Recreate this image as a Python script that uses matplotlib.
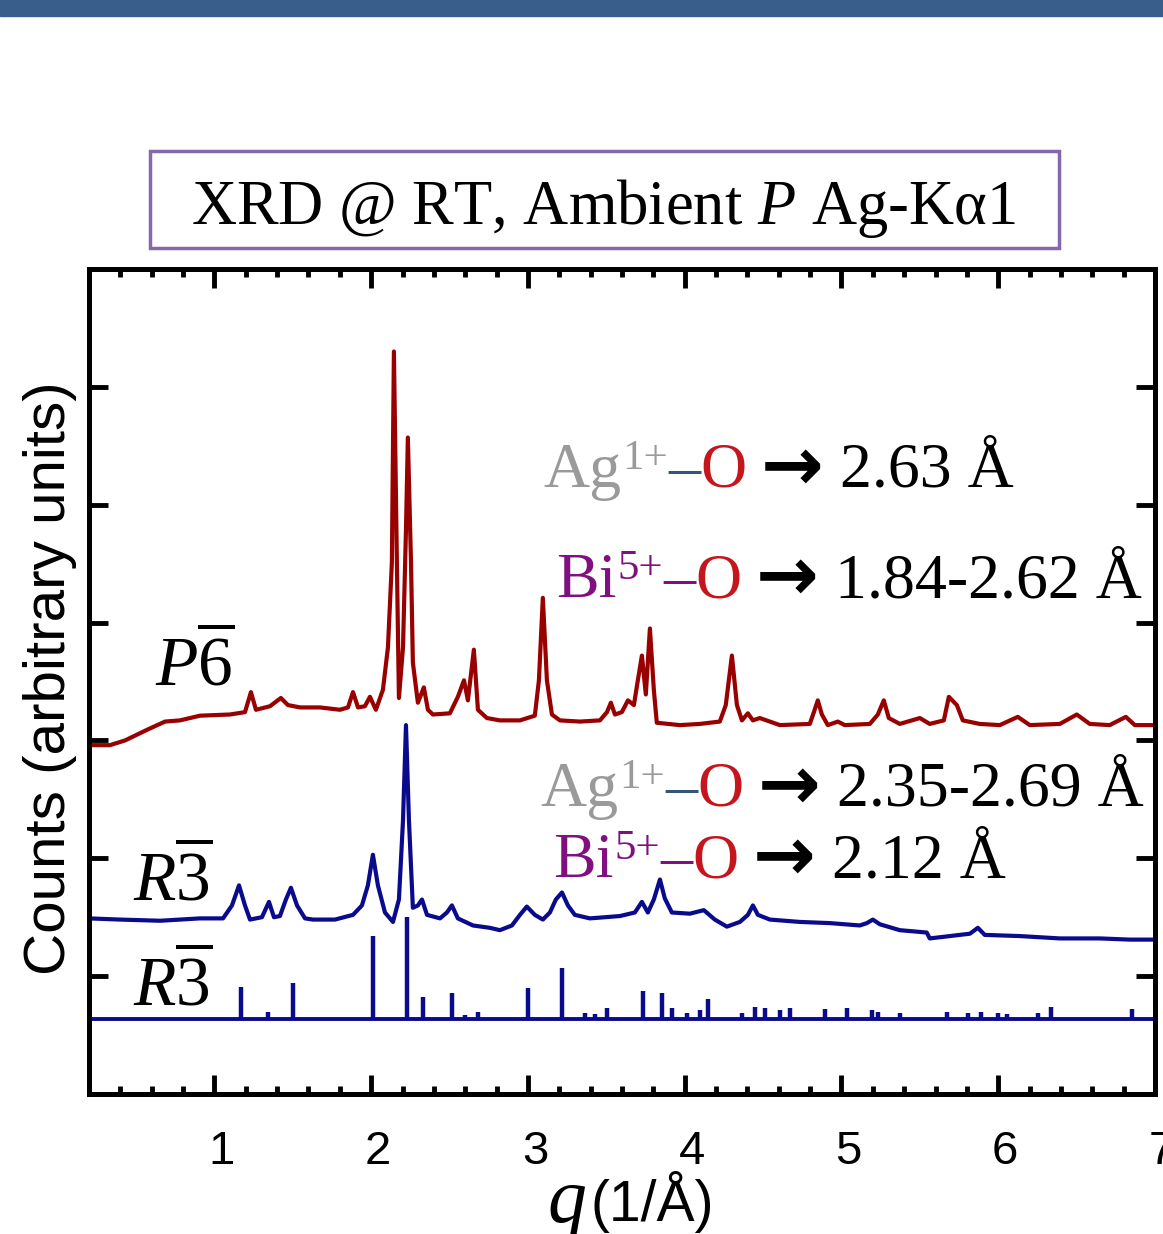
import matplotlib
matplotlib.use("Agg")
import matplotlib.pyplot as plt
import matplotlib.transforms as mtransforms
from matplotlib.patches import Rectangle
from matplotlib.ticker import MultipleLocator

plt.rcParams['mathtext.fontset'] = 'custom'
plt.rcParams['mathtext.rm'] = 'Liberation Serif'
plt.rcParams['mathtext.it'] = 'Liberation Serif:italic'
plt.rcParams['mathtext.bf'] = 'Liberation Serif:bold'

# measured pattern, P-6 phase (q in 1/A, counts in arbitrary units, already offset)
p6_q = [0.20, 0.334, 0.430, 0.570, 0.685, 0.780, 0.908, 1.099, 1.195, 1.233, 1.265, 1.354, 1.424,
        1.469, 1.546, 1.673, 1.801, 1.852, 1.884, 1.916, 1.960, 1.992, 2.030, 2.075, 2.107, 2.132,
        2.145, 2.164, 2.177, 2.203, 2.222, 2.234, 2.254, 2.266, 2.298, 2.336, 2.362, 2.394, 2.502,
        2.553, 2.592, 2.617, 2.655, 2.681, 2.738, 2.821, 2.949, 3.044, 3.070, 3.095, 3.121, 3.153,
        3.204, 3.331, 3.459, 3.504, 3.529, 3.555, 3.599, 3.638, 3.676, 3.701, 3.727, 3.752, 3.778,
        3.803, 3.822, 3.969, 4.097, 4.224, 4.262, 4.301, 4.333, 4.365, 4.403, 4.435, 4.479, 4.607,
        4.798, 4.824, 4.849, 4.875, 4.913, 4.977, 5.021, 5.181, 5.232, 5.270, 5.302, 5.372, 5.500,
        5.563, 5.653, 5.685, 5.736, 5.774, 5.882, 6.010, 6.125, 6.201, 6.393, 6.501, 6.584, 6.711,
        6.814, 6.871, 7.00]
p6_counts = [2.96, 2.96, 3.00, 3.09, 3.16, 3.17, 3.21, 3.22, 3.24, 3.41, 3.26, 3.29, 3.36,
             3.30, 3.28, 3.28, 3.26, 3.28, 3.41, 3.28, 3.29, 3.37, 3.26, 3.43, 3.79, 4.51,
             6.30, 4.51, 3.36, 3.79, 4.79, 5.57, 4.51, 3.66, 3.32, 3.45, 3.26, 3.22, 3.23,
             3.37, 3.51, 3.34, 3.77, 3.26, 3.19, 3.17, 3.17, 3.21, 3.51, 4.21, 3.51, 3.22,
             3.17, 3.16, 3.17, 3.24, 3.32, 3.22, 3.24, 3.34, 3.30, 3.51, 3.72, 3.39, 3.95,
             3.43, 3.15, 3.13, 3.14, 3.16, 3.30, 3.72, 3.30, 3.17, 3.23, 3.17, 3.19, 3.13,
             3.14, 3.24, 3.34, 3.22, 3.13, 3.16, 3.13, 3.14, 3.22, 3.34, 3.19, 3.14, 3.19,
             3.14, 3.17, 3.37, 3.30, 3.17, 3.14, 3.13, 3.20, 3.13, 3.14, 3.22, 3.14, 3.13,
             3.20, 3.13, 3.13]

# measured pattern, R-3 phase
r3_q = [0.20, 0.398, 0.653, 0.908, 1.055, 1.112, 1.157, 1.195, 1.227, 1.303, 1.348, 1.380, 1.418,
        1.456, 1.488, 1.527, 1.578, 1.629, 1.769, 1.884, 1.941, 1.979, 2.011, 2.043, 2.088, 2.139,
        2.177, 2.203, 2.222, 2.241, 2.266, 2.298, 2.324, 2.356, 2.439, 2.483, 2.515, 2.553, 2.649,
        2.757, 2.821, 2.898, 2.949, 2.993, 3.044, 3.095, 3.140, 3.178, 3.217, 3.255, 3.299, 3.395,
        3.587, 3.682, 3.727, 3.765, 3.803, 3.842, 3.873, 3.918, 4.033, 4.122, 4.192, 4.269, 4.352,
        4.403, 4.435, 4.467, 4.543, 4.734, 4.926, 5.117, 5.162, 5.200, 5.245, 5.372, 5.544, 5.563,
        5.691, 5.819, 5.870, 5.914, 6.137, 6.393, 6.648, 6.839, 7.00]
r3_counts = [1.49, 1.48, 1.47, 1.49, 1.49, 1.60, 1.77, 1.60, 1.48, 1.50, 1.63, 1.50, 1.51,
             1.65, 1.75, 1.60, 1.49, 1.48, 1.48, 1.52, 1.60, 1.77, 2.03, 1.77, 1.54, 1.46,
             1.65, 2.32, 3.13, 2.32, 1.58, 1.60, 1.65, 1.52, 1.49, 1.54, 1.60, 1.49, 1.43,
             1.41, 1.39, 1.43, 1.52, 1.59, 1.52, 1.48, 1.54, 1.65, 1.71, 1.60, 1.52, 1.49,
             1.51, 1.54, 1.63, 1.54, 1.65, 1.82, 1.66, 1.54, 1.53, 1.56, 1.48, 1.42, 1.46,
             1.52, 1.60, 1.52, 1.48, 1.46, 1.45, 1.43, 1.45, 1.48, 1.44, 1.39, 1.37, 1.32,
             1.34, 1.36, 1.41, 1.35, 1.34, 1.32, 1.32, 1.31, 1.31]

# calculated R-3 reflections
calc_base = 0.64
calc_q = [1.169, 1.342, 1.501, 2.011, 2.228, 2.330, 2.515, 2.598, 2.681, 3.000, 3.217, 3.363,
          3.427, 3.504, 3.733, 3.854, 3.918, 4.014, 4.097, 4.148, 4.365, 4.447, 4.511, 4.607,
          4.671, 4.894, 5.034, 5.194, 5.232, 5.372, 5.672, 5.806, 5.889, 5.997, 6.055, 6.252,
          6.335, 6.852]
calc_int = [0.27, 0.06, 0.30, 0.70, 0.86, 0.18, 0.22, 0.03, 0.06, 0.26, 0.43, 0.05,
            0.04, 0.09, 0.23, 0.22, 0.09, 0.05, 0.07, 0.17, 0.05, 0.10, 0.09, 0.07,
            0.09, 0.08, 0.09, 0.07, 0.06, 0.05, 0.06, 0.05, 0.06, 0.05, 0.04, 0.05,
            0.10, 0.08]

xticks = [1, 2, 3, 4, 5, 6, 7]
W, H = 1163, 1234
SERIF = 'Liberation Serif'
SANS = 'Liberation Sans'

fig = plt.figure(figsize=(W / 100, H / 100), dpi=100)

# header strip
fig.add_artist(Rectangle((0, 1 - 16 / H), 1, 16 / H, transform=fig.transFigure,
                         color='#3a5e8b', zorder=0))

# title box
fig.add_artist(Rectangle((150 / W, 1 - 248 / H), 909 / W, 97 / H, transform=fig.transFigure,
                         fill=False, edgecolor='#8467ad', lw=2.5))
fig.text(603 / W, 1 - 224 / H, r'XRD @ RT, Ambient $P$ Ag-K$\mathrm{\alpha}$1', ha='center',
         va='baseline', fontsize=45, family=SERIF)

ax = fig.add_axes([89 / W, 140 / H, 1066 / W, 825 / H])
ax.plot(p6_q, p6_counts, color='#990000', lw=3)
ax.plot(r3_q, r3_counts, color='#0a0a8c', lw=3)
ax.axhline(calc_base, color='#0a0a8c', lw=2.8)
ax.vlines(calc_q, calc_base, [calc_base + h for h in calc_int], color='#0a0a8c', lw=3.2)

ax.set_xlim(0.2, 7.0)
ax.set_ylim(0, 7)
ax.set_xticks(xticks)
ax.set_xticklabels([str(t) for t in xticks], fontsize=34, family=SANS)
ax.xaxis.set_minor_locator(MultipleLocator(0.2))
ax.set_yticks([1, 2, 3, 4, 5, 6])
ax.set_yticklabels([])
ax.tick_params(which='both', direction='in', top=True, right=True, width=3.5, color='black')
ax.tick_params(which='major', length=14)
ax.tick_params(axis='x', which='major', pad=26)
ax.tick_params(axis='x', which='minor', length=6)
for s in ax.spines.values():
    s.set_linewidth(3.6)
offset = mtransforms.ScaledTranslation(0.07, 0, fig.dpi_scale_trans)
for lab in ax.get_xticklabels():
    lab.set_transform(lab.get_transform() + offset)

fig.text(50 / W, 1 - 678 / H, 'Counts (arbitrary units)', rotation=90, ha='center',
         va='center', fontsize=42, family=SANS)
fig.text(586 / W, 1 - 1222 / H, 'q', ha='right', va='baseline', fontsize=56,
         family=SERIF, style='italic')
fig.text(590 / W, 1 - 1221 / H, '(1/Å)', ha='left', va='baseline', fontsize=41, family=SANS)

# phase labels
fig.text(155 / W, 1 - 685 / H, r'$P\overline{6}$', fontsize=50, va='baseline')
fig.text(133 / W, 1 - 900 / H, r'$R\overline{3}$', fontsize=50, va='baseline')
fig.text(133 / W, 1 - 1005 / H, r'$R\overline{3}$', fontsize=50, va='baseline')

GRAY, PURPLE, RED, DASHBLUE = '#9a9a9a', '#80107f', '#c4161c', '#34557a'


def rich(x_px, y_px, pieces):
    yb = 1 - y_px / H
    prev = None
    for text, color, size, rise, gap, fam, weight in pieces:
        if prev is None:
            prev = fig.text(x_px / W, yb, text, color=color, fontsize=size, family=fam,
                            fontweight=weight, ha='left', va='baseline')
        else:
            prev = ax.annotate(text, xy=(1, yb), xycoords=(prev, 'figure fraction'),
                               xytext=(gap, rise), textcoords='offset points', color=color,
                               fontsize=size, family=fam, fontweight=weight, ha='left',
                               va='baseline', annotation_clip=False)


def bond(x_px, y_px, ion, charge, ion_color, dash_color, value):
    rich(x_px, y_px, [
        (ion, ion_color, 46, 0, 0, SERIF, 'normal'),
        (charge, ion_color, 31, 13, 1, SERIF, 'normal'),
        ('–', dash_color, 46, 0, 0, SERIF, 'normal'),
        ('O', RED, 46, 0, 0, SERIF, 'normal'),
        ('→', 'black', 54, -2, 10, 'DejaVu Sans', 'bold'),
        (value, 'black', 46, 0, 12, SERIF, 'normal'),
    ])


bond(543, 487, 'Ag', '1+', GRAY, DASHBLUE, '2.63 Å')
bond(556, 597, 'Bi', '5+', PURPLE, PURPLE, '1.84-2.62 Å')
bond(540, 806, 'Ag', '1+', GRAY, DASHBLUE, '2.35-2.69 Å')
bond(553, 877, 'Bi', '5+', PURPLE, PURPLE, '2.12 Å')

fig.savefig('out.png', dpi=100)
